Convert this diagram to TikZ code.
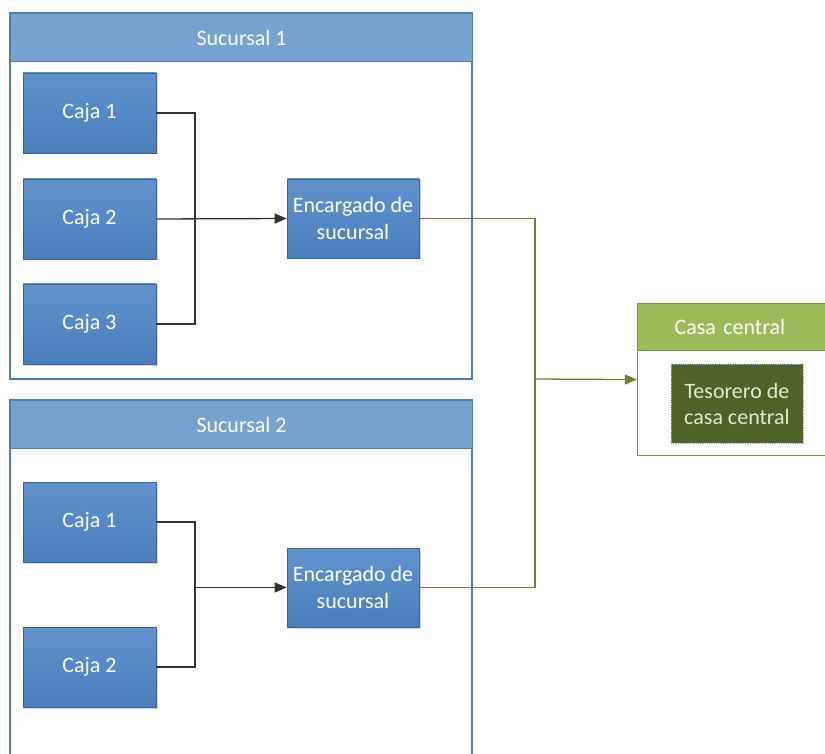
\documentclass[tikz,border=0pt]{standalone}
\usepackage{fontspec}
\setmainfont{Carlito}
\usetikzlibrary{arrows.meta,shadows}
\definecolor{hdrblue}{RGB}{117,162,206}
\definecolor{edgeblue}{RGB}{79,125,182}
\definecolor{cajatop}{RGB}{96,147,205}
\definecolor{cajabot}{RGB}{74,126,187}
\definecolor{hdrgreen}{RGB}{155,187,89}
\definecolor{edgegreen}{RGB}{119,147,60}
\definecolor{tesfill}{RGB}{79,98,40}
\definecolor{testext}{RGB}{226,234,208}
\definecolor{gline}{RGB}{110,130,55}
\tikzset{
  cajabox/.style={rectangle, draw=edgeblue!80!black, line width=0.7pt,
    top color=cajatop, bottom color=cajabot, text=white,
    minimum width=133pt, minimum height=80pt, inner sep=2pt,
    align=center, font=\fontsize{22}{27}\selectfont,
    drop shadow={shadow xshift=1.5pt, shadow yshift=-1.5pt, fill=black!25, opacity=0.6}},
  encbox/.style={cajabox, minimum width=132pt, minimum height=79pt},
  hdr/.style={rectangle, draw=edgeblue, line width=1.2pt, fill=hdrblue, text=white,
    minimum height=48pt, font=\fontsize{22}{27}\selectfont},
  frame/.style={draw=edgeblue, line width=1.2pt, fill=white},
  conn/.style={draw=black!80, line width=1.3pt},
  arr/.style={-{Triangle[length=12pt,width=10pt]}},
  gconn/.style={draw=gline, line width=1.3pt},
}
\begin{document}
\begin{tikzpicture}[x=1pt,y=-1pt]
\useasboundingbox (0,0) rectangle (825,754);
\fill[white] (0,0) rectangle (825,754);
\clip (0,0) rectangle (825,754);
% Sucursal 1
\draw[frame] (10,13) rectangle (472,379);
\node[hdr, minimum width=462pt, anchor=north west] (s1) at (10,13) {Sucursal 1};
\node[cajabox] (c11) at (89.5,113) {Caja 1};
\node[cajabox] (c12) at (89.5,219) {Caja 2};
\node[cajabox] (c13) at (89.5,324) {Caja 3};
\node[encbox] (e1) at (353,218.5) {Encargado de\\sucursal};
\coordinate (j1) at (195,219);
\draw[conn] (c11.east) -| (j1);
\draw[conn] (c13.east) -| (j1);
\draw[conn,arr] (c12.east) -- (e1.west);
% Sucursal 2
\draw[frame] (10,400) rectangle (472,780);
\node[hdr, minimum width=462pt, anchor=north west] (s2) at (10,400) {Sucursal 2};
\node[cajabox] (c21) at (89.5,522) {Caja 1};
\node[cajabox] (c22) at (89.5,667) {Caja 2};
\node[encbox] (e2) at (353,587.5) {Encargado de\\sucursal};
\coordinate (j2) at (195,587.5);
\draw[conn] (c21.east) -| (j2);
\draw[conn] (c22.east) -| (j2);
\draw[conn,arr] (j2) -- (e2.west);
% Casa central
\node[rectangle, draw=edgegreen, line width=1.2pt, fill=white, minimum width=220pt,
  minimum height=152pt, anchor=north west] (casa) at (637,303) {};
\node[rectangle, draw=edgegreen, line width=1.2pt, fill=hdrgreen, text=white,
  minimum width=220pt, minimum height=47pt, anchor=north west,
  font=\fontsize{22}{27}\selectfont, text width=220pt, align=left, inner xsep=0pt] (casah) at (637,303) {\hspace*{37pt}Casa central};
\node[rectangle, draw=edgeblue!60, densely dotted, line width=0.8pt, fill=tesfill, text=testext,
  minimum width=132pt, minimum height=79pt, align=center,
  font=\fontsize{22}{26}\selectfont] (tes) at (737,403.5) {Tesorero de\\casa central};
% green connectors
\coordinate (g) at (535,379);
\draw[gconn] (e1.east) -| (g);
\draw[gconn] (e2.east) -| (g);
\draw[gconn, -{Triangle[length=12pt,width=10pt]}] (g) -- (casa.west);
\end{tikzpicture}
\end{document}
